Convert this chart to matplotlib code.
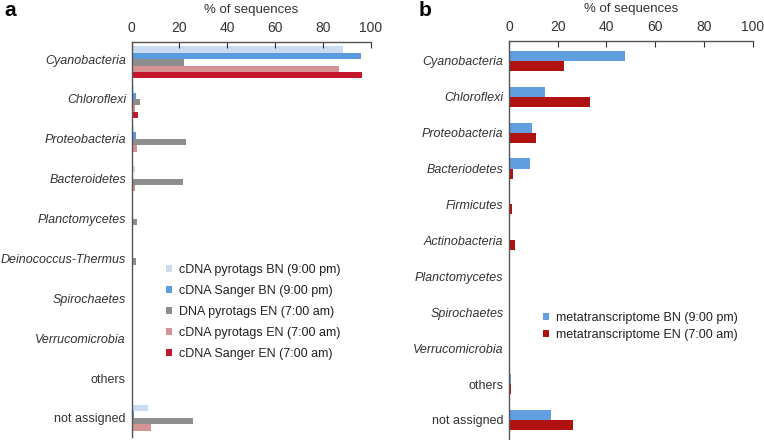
import numpy as np
import matplotlib
matplotlib.use('Agg')
import matplotlib.pyplot as plt

plt.rcParams['font.family'] = ['Liberation Sans', 'DejaVu Sans']

# panel a data
cats_a = ['Cyanobacteria', 'Chloroflexi', 'Proteobacteria', 'Bacteroidetes',
          'Planctomycetes', 'Deinococcus-Thermus', 'Spirochaetes',
          'Verrucomicrobia', 'others', 'not assigned']
series_a = ['cDNA pyrotags BN (9:00 pm)', 'cDNA Sanger BN (9:00 pm)',
            'DNA pyrotags EN (7:00 am)', 'cDNA pyrotags EN (7:00 am)',
            'cDNA Sanger EN (7:00 am)']
pyro_bn = [88.3, 1.0, 1.0, 1.5, 0.3, 0.2, 0.2, 0.1, 0.2, 7.0]
sanger_bn = [96.2, 2.0, 2.0, 0.3, 0.5, 0.0, 0.0, 0.0, 0.0, 1.0]
dna_en = [21.8, 3.5, 22.7, 21.4, 2.4, 1.8, 0.3, 0.2, 0.3, 25.9]
pyro_en = [86.8, 1.5, 2.5, 1.5, 0.3, 0.2, 0.2, 0.2, 0.2, 8.0]
sanger_en = [96.5, 2.8, 0.5, 0.5, 0.3, 0.0, 0.0, 0.0, 0.0, 0.5]
colors_a = ['#c9dcf2', '#5b9be0', '#8e8e8e', '#d49494', '#c4162c']

# panel b data
cats_b = ['Cyanobacteria', 'Chloroflexi', 'Proteobacteria', 'Bacteriodetes',
          'Firmicutes', 'Actinobacteria', 'Planctomycetes', 'Spirochaetes',
          'Verrucomicrobia', 'others', 'not assigned']
series_b = ['metatranscriptome BN (9:00 pm)', 'metatranscriptome EN (7:00 am)']
meta_bn = [47.4, 14.8, 9.5, 8.7, 0.5, 0.5, 0.3, 0.3, 0.3, 0.7, 17.3]
meta_en = [22.5, 33.1, 11.2, 1.8, 1.3, 2.6, 0.3, 0.3, 0.3, 0.8, 26.3]
colors_b = ['#619fe0', '#b01212']

xticks = [0, 20, 40, 60, 80, 100]

W, H = 764, 440
fig = plt.figure(figsize=(W / 100, H / 100), dpi=100)


def px_axes(l, t, r, b):
    return fig.add_axes([l / W, 1 - b / H, (r - l) / W, (b - t) / H])


def style(ax, cats):
    ax.set_xlim(0, 100)
    ax.set_xticks(xticks)
    ax.xaxis.tick_top()
    ax.xaxis.set_label_position('top')
    ax.set_xlabel('% of sequences', fontsize=9.5, color='#333333', labelpad=6)
    ax.tick_params(axis='x', direction='in', length=4, width=0.8,
                   labelsize=10, colors='#333333', pad=5)
    ax.tick_params(axis='y', length=0, labelsize=9, colors='#333333', pad=4)
    ax.set_yticks(np.arange(len(cats)))
    ax.set_yticklabels(cats)
    for lab in ax.get_yticklabels():
        if lab.get_text() not in ('others', 'not assigned'):
            lab.set_fontstyle('italic')
    for s in ['right', 'bottom']:
        ax.spines[s].set_visible(False)
    for s in ['top', 'left']:
        ax.spines[s].set_color('#555555')
        ax.spines[s].set_linewidth(1.0)


# panel a
ax1 = px_axes(131.5, 42, 370.5, 437)
y = np.arange(len(cats_a))
h = 0.16
for k, (vals, c) in enumerate(zip([pyro_bn, sanger_bn, dna_en, pyro_en, sanger_en], colors_a)):
    ax1.barh(y - 0.32 + h * k + h / 2, vals, height=h, color=c, label=series_a[k])
ax1.set_ylim(len(cats_a) - 0.52, -0.43)
style(ax1, cats_a)
ax1.legend(loc='upper left', bbox_to_anchor=(161 / W, 1 - 259 / H),
           bbox_transform=fig.transFigure, frameon=False, fontsize=9,
           handlelength=0.5, handleheight=0.5, handletextpad=0.55,
           labelspacing=0.72, borderaxespad=0, labelcolor='#222222')

# panel b
ax2 = px_axes(509, 41, 752.7, 439)
y = np.arange(len(cats_b))
h = 0.28
ax2.barh(y - h / 2, meta_bn, height=h, color=colors_b[0], label=series_b[0])
ax2.barh(y + h / 2, meta_en, height=h, color=colors_b[1], label=series_b[1])
ax2.set_ylim(len(cats_b) - 0.47, -0.55)
style(ax2, cats_b)
ax2.legend(loc='upper left', bbox_to_anchor=(538 / W, 1 - 307 / H),
           bbox_transform=fig.transFigure, frameon=False, fontsize=9,
           handlelength=0.5, handleheight=0.5, handletextpad=0.55,
           labelspacing=0.4, borderaxespad=0, labelcolor='#222222')

fig.text(4 / W, 1 - 10 / H, 'a', fontsize=15, fontweight='bold', va='center')
fig.text(419 / W, 1 - 10 / H, 'b', fontsize=15, fontweight='bold', va='center')

fig.savefig('out.png', dpi=100)
